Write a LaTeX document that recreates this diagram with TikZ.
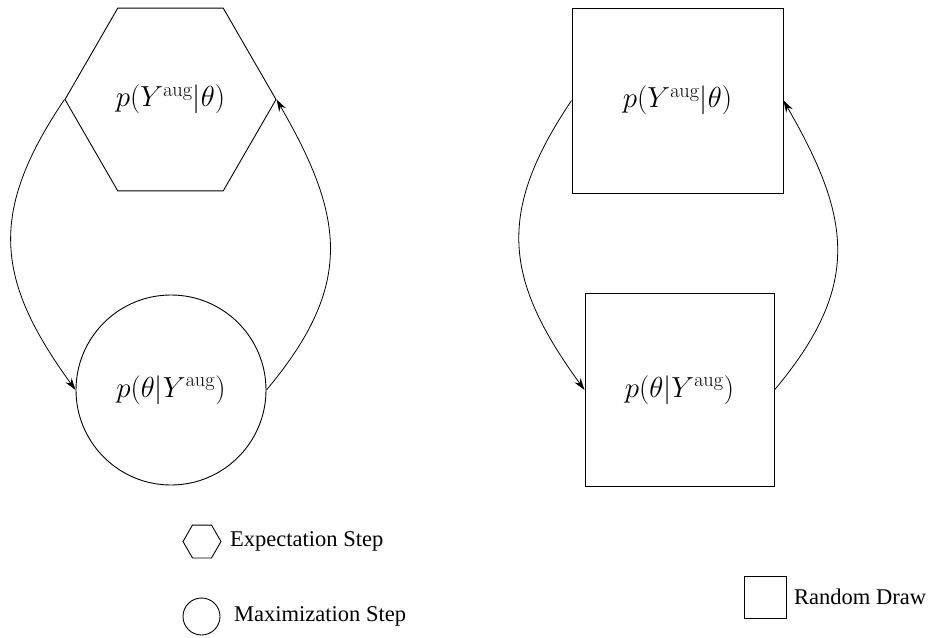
\RequirePackage{fix-cm}
\documentclass[tikz,border=0pt]{standalone}
\usepackage[no-math]{fontspec}
\setmainfont{Liberation Serif}
\usetikzlibrary{shapes.geometric,arrows.meta}
\tikzset{
  estepshape/.style={draw, line width=0.9pt, regular polygon, regular polygon sides=6, inner sep=0pt},
  mstepshape/.style={draw, line width=0.9pt, circle, inner sep=0pt},
  drawbox/.style={draw, line width=0.9pt, rectangle, inner sep=0pt},
  flow/.style={-{Stealth[length=12pt,width=7.5pt]}, line width=0.8pt, looseness=1.2},
  dens/.style={font=\fontsize{29}{34}\selectfont},
  keytext/.style={anchor=west, inner sep=0pt, font=\fontsize{22.5}{27}\selectfont},
}
\begin{document}
\begin{tikzpicture}[x=1pt,y=-1pt]
      \useasboundingbox (0,0) rectangle (941,637);
      % EM cycle
      \node[estepshape, minimum size=211pt, dens] (estep) at (170.5,99.5) {$p(Y^{\mathrm{aug}}|\theta)$};
      \node[mstepshape, minimum size=190pt, dens] (mstep) at (171,390) {$p(\theta|Y^{\mathrm{aug}})$};
      \draw[flow] (estep.west) to[out=236,in=126] (mstep.west);
      \draw[flow] (mstep.east) to[out=50,in=-60] (estep.east);
      % data augmentation cycle
      \node[drawbox, minimum width=211pt, minimum height=185pt, dens] (drawtop) at (677.5,100.5) {$p(Y^{\mathrm{aug}}|\theta)$};
      \node[drawbox, minimum width=189pt, minimum height=193pt, dens] (drawbot) at (679.5,390) {$p(\theta|Y^{\mathrm{aug}})$};
      \draw[flow] (drawtop.west) to[out=236,in=126] (drawbot.west);
      \draw[flow] (drawbot.east) to[out=50,in=-60] (drawtop.east);
      % legend
      \node[estepshape, minimum size=38pt] (keyE) at (202,541.5) {};
      \node[keytext] (keyEtext) at (230,541.5) {Expectation Step};
      \node[mstepshape, minimum size=37pt] (keyM) at (201.5,616.5) {};
      \node[keytext] (keyMtext) at (234,616.5) {Maximization Step};
      \node[drawbox, minimum size=42pt] (keyD) at (765,597) {};
      \node[keytext] (keyDtext) at (794,597) {Random Draw};
    \end{tikzpicture}
\end{document}
